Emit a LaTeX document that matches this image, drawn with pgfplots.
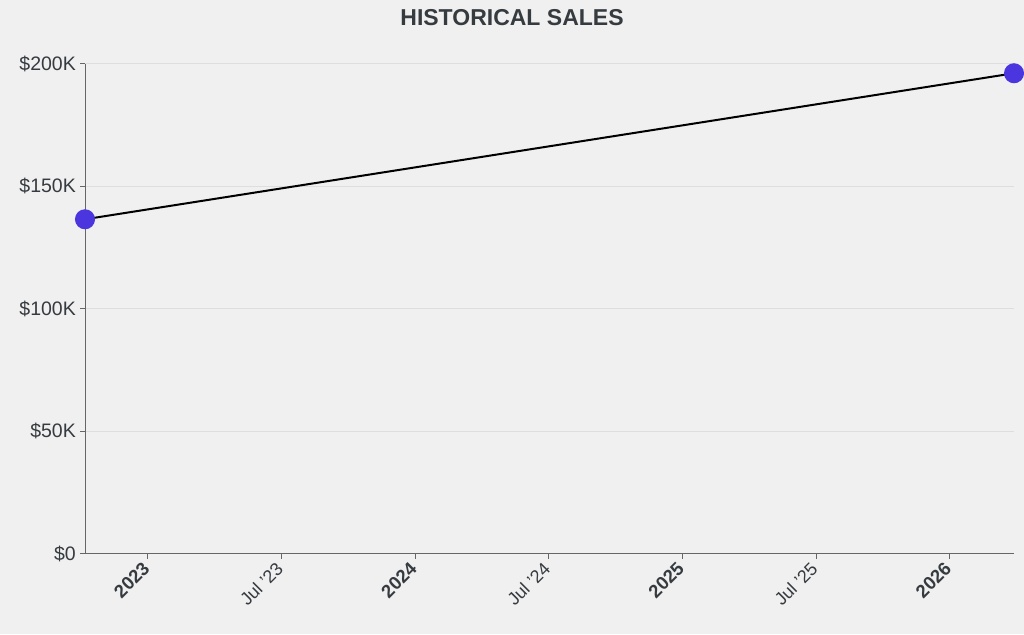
\documentclass[border=0pt]{standalone}
\usepackage{pgfplots}
\pgfplotsset{compat=1.18}
\usepackage{fontspec}
\setmainfont{Liberation Sans}
\definecolor{bg}{HTML}{F0F0F0}
\definecolor{txt}{HTML}{363B40}
\definecolor{axgrey}{HTML}{666666}
\definecolor{gridc}{HTML}{DEDEDE}
\definecolor{markc}{HTML}{4A35DF}
\begin{document}
\begin{tikzpicture}
\fill[bg] (0,0) rectangle (1024pt,634pt);
\node[text=txt, font=\fontsize{23}{26}\selectfont\bfseries] at (512pt,616pt) {HISTORICAL SALES};
\begin{axis}[
  at={(85pt,80.3pt)}, anchor=south west,
  scale only axis, width=929pt, height=490pt,
  xmin=0.7644, xmax=4.2405,
  ymin=0, ymax=200000,
  scaled y ticks=false,
  axis x line*=bottom, axis y line*=left,
  axis line style={axgrey, line width=1pt},
  tick align=outside, major tick length=5pt,
  tick style={axgrey, line width=1pt},
  ytick={0,50000,100000,150000,200000},
  yticklabels={\$0,\$50K,\$100K,\$150K,\$200K},
  yticklabel style={text=txt, font=\fontsize{19.5}{21}\selectfont, inner sep=2pt, xshift=-2pt},
  xtick={1,1.5,2,2.5,3,3.5,4},
  xticklabels={{\fontsize{18.5}{21}\selectfont\bfseries 2023},{Jul '23},{\fontsize{18.5}{21}\selectfont\bfseries 2024},{Jul '24},{\fontsize{18.5}{21}\selectfont\bfseries 2025},{Jul '25},{\fontsize{18.5}{21}\selectfont\bfseries 2026}},
  xticklabel style={text=txt, font=\fontsize{18}{20}\selectfont, xshift=-1pt, yshift=-6pt, rotate=45, anchor=east, inner sep=1pt},
  ymajorgrids, grid style={gridc, line width=1pt},
  clip=false,
]
\addplot[black, line width=2pt, mark=*, mark size=9.5pt, mark options={fill=markc, draw=markc, line width=1pt}]
  coordinates {(0.7644,136500) (4.2405,196100)};
\end{axis}
\end{tikzpicture}
\end{document}
